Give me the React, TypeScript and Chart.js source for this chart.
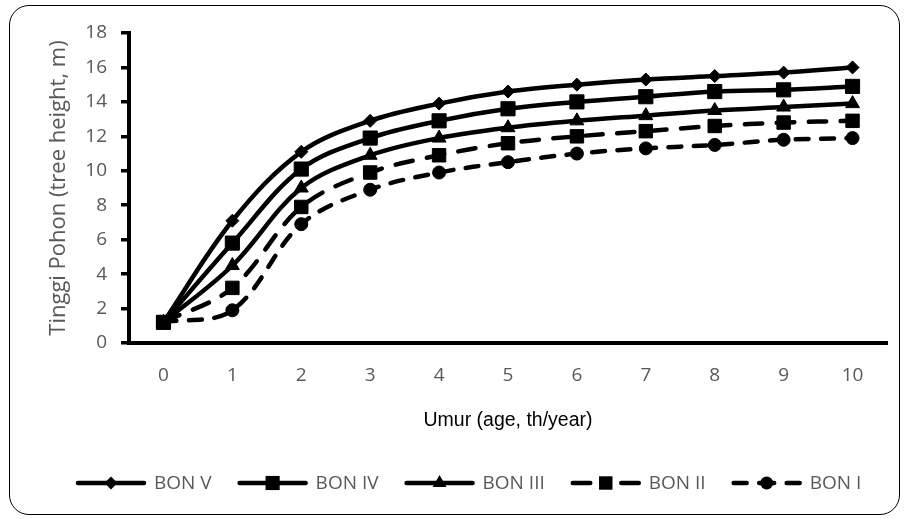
import React, { useEffect, useRef } from "react";
import { Chart, registerables } from "chart.js";

Chart.register(...registerables);

const ageLabels = ["0", "1", "2", "3", "4", "5", "6", "7", "8", "9", "10"];
const bonV = [1.2, 7.1, 11.1, 12.9, 13.9, 14.6, 15.0, 15.3, 15.5, 15.7, 16.0];
const bonIV = [1.2, 5.8, 10.1, 11.9, 12.9, 13.6, 14.0, 14.3, 14.6, 14.7, 14.9];
const bonIII = [1.2, 4.5, 9.0, 10.9, 11.9, 12.5, 12.9, 13.2, 13.5, 13.7, 13.9];
const bonII = [1.2, 3.2, 7.9, 9.9, 10.9, 11.6, 12.0, 12.3, 12.6, 12.8, 12.9];
const bonI = [1.2, 1.9, 6.9, 8.9, 9.9, 10.5, 11.0, 11.3, 11.5, 11.8, 11.9];
const seriesNames = ["BON V", "BON IV", "BON III", "BON II", "BON I"];
const yTitle = "Tinggi Pohon (tree height, m)";
const xTitle = "Umur (age, th/year)";

const GRAY = "#595959";
const LINE_W = 4.5;

function drawMarker(ctx: CanvasRenderingContext2D, style: string, x: number, y: number, r: number) {
  ctx.save();
  ctx.fillStyle = "#000";
  ctx.beginPath();
  if (style === "rectRot") {
    ctx.moveTo(x - r, y);
    ctx.lineTo(x, y - r);
    ctx.lineTo(x + r, y);
    ctx.lineTo(x, y + r);
    ctx.closePath();
  } else if (style === "rect") {
    const s = Math.SQRT1_2 * r;
    ctx.rect(x - s, y - s, 2 * s, 2 * s);
  } else if (style === "triangle") {
    ctx.moveTo(x, y - r);
    ctx.lineTo(x + (r * Math.sqrt(3)) / 2, y + r / 2);
    ctx.lineTo(x - (r * Math.sqrt(3)) / 2, y + r / 2);
    ctx.closePath();
  } else {
    ctx.arc(x, y, r, 0, Math.PI * 2);
  }
  ctx.fill();
  ctx.restore();
}

const lineLegend = {
  id: "lineLegend",
  afterDraw(chart: any) {
    const ctx: CanvasRenderingContext2D = chart.ctx;
    const y = 483;
    const sample = 70;
    let x = 76;
    ctx.save();
    ctx.font = "19px 'Open Sans'";
    chart.data.datasets.forEach((ds: any) => {
      ctx.strokeStyle = "#000";
      ctx.lineWidth = LINE_W;
      ctx.lineCap = "round";
      const dash = ds.borderDash || [];
      ctx.setLineDash(dash);
      const mid = x + sample / 2;
      if (dash.length) {
        ctx.beginPath();
        ctx.moveTo(x + 2, y);
        ctx.lineTo(mid, y);
        ctx.stroke();
        ctx.beginPath();
        ctx.moveTo(x + sample - 2, y);
        ctx.lineTo(mid, y);
        ctx.stroke();
      } else {
        ctx.beginPath();
        ctx.moveTo(x + 2, y);
        ctx.lineTo(x + sample - 2, y);
        ctx.stroke();
      }
      ctx.setLineDash([]);
      drawMarker(ctx, ds.pointStyle, mid, y, ds.pointRadius);
      ctx.fillStyle = GRAY;
      ctx.textBaseline = "middle";
      ctx.textAlign = "left";
      ctx.fillText(ds.label, x + 78, y + 1);
      x += 78 + ctx.measureText(ds.label).width + 26;
    });
    ctx.restore();
  },
};

export default function App() {
  const ref = useRef<HTMLCanvasElement>(null);

  useEffect(() => {
    if (!ref.current) return;
    const common = {
      borderColor: "#000",
      backgroundColor: "#000",
      pointBackgroundColor: "#000",
      pointBorderColor: "#000",
      pointBorderWidth: 1,
      borderWidth: LINE_W,
      borderCapStyle: "round" as const,
      tension: 0.35,
      fill: false,
    };
    const chart = new Chart(ref.current, {
      type: "line",
      data: {
        labels: ageLabels,
        datasets: [
          { ...common, label: seriesNames[0], data: bonV, pointStyle: "rectRot", pointRadius: 6.5 },
          { ...common, label: seriesNames[1], data: bonIV, pointStyle: "rect", pointRadius: 10 },
          { ...common, label: seriesNames[2], data: bonIII, pointStyle: "triangle", pointRadius: 8 },
          { ...common, label: seriesNames[3], data: bonII, pointStyle: "rect", pointRadius: 9.5, borderDash: [17.5, 14.5] },
          { ...common, label: seriesNames[4], data: bonI, pointStyle: "circle", pointRadius: 6.5, borderDash: [13, 12.5] },
        ],
      },
      options: {
        responsive: false,
        animation: false,
        layout: { padding: { left: 20, right: 17, top: 33, bottom: 60 } },
        plugins: {
          legend: { display: false },
          tooltip: { enabled: false },
        },
        scales: {
          x: {
            type: "category",
            offset: true,
            grid: { display: false, drawTicks: false },
            border: { display: true, color: "#000", width: 4 },
            ticks: {
              color: GRAY,
              font: { family: "'Open Sans'", size: 19 },
              padding: 21,
              maxRotation: 0,
            },
            title: {
              display: true,
              text: xTitle,
              color: "#000",
              font: { family: "'Liberation Sans'", size: 19.5 },
              padding: { top: 0, bottom: 27 },
            },
            afterFit: (s: any) => {
              s.height = 116;
            },
          },
          y: {
            min: 0,
            max: 18,
            grid: {
              drawOnChartArea: false,
              drawTicks: true,
              tickLength: 8,
              lineWidth: 3.5,
              color: "#000",
            },
            border: { display: true, color: "#000", width: 4 },
            ticks: {
              stepSize: 2,
              color: GRAY,
              font: { family: "'Open Sans'", size: 19 },
              padding: 14,
            },
            title: {
              display: true,
              text: yTitle,
              color: GRAY,
              font: { family: "'Open Sans'", size: 22 },
              padding: { top: 26, bottom: 0 },
            },
            afterFit: (s: any) => {
              s.width = 109;
            },
          },
        },
      },
      plugins: [lineLegend],
    });
    return () => chart.destroy();
  }, []);

  return (
    <>
      <div
        style={{
          position: "absolute",
          left: 9,
          top: 5,
          width: 891,
          height: 510,
          boxSizing: "border-box",
          border: "1.5px solid #000",
          borderRadius: 20,
        }}
      />
      <canvas
        ref={ref}
        width={904}
        height={519}
        style={{ position: "absolute", left: 0, top: 0, width: 904, height: 519 }}
      />
    </>
  );
}
